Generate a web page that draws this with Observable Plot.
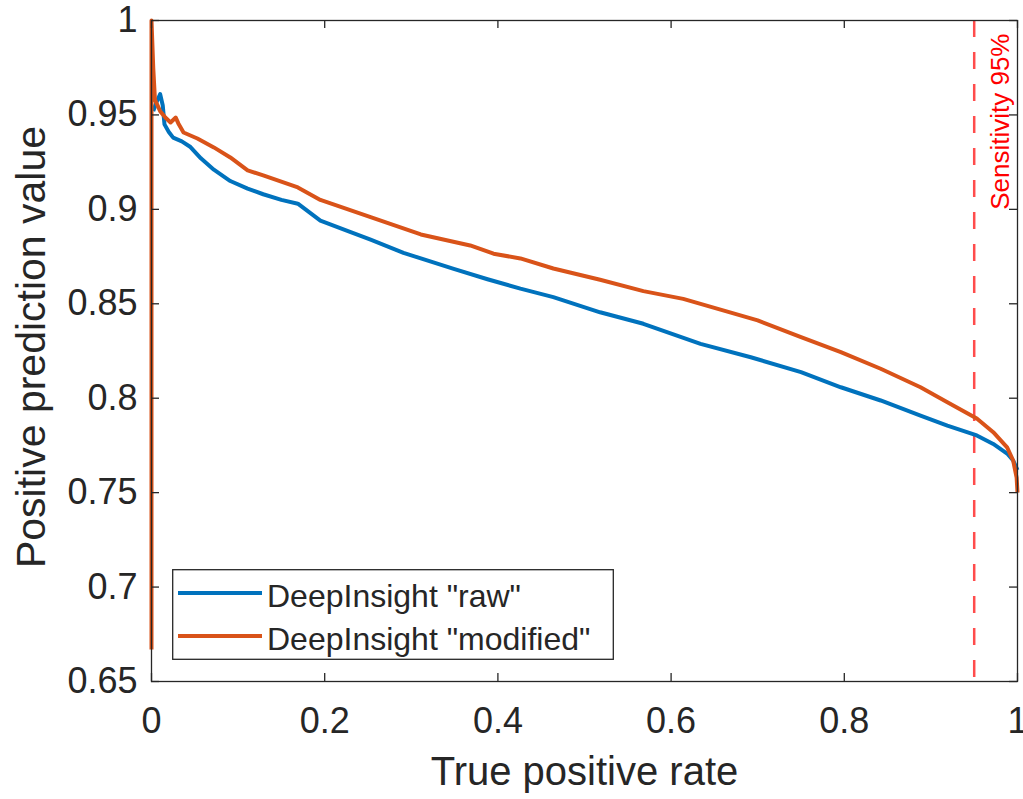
<!DOCTYPE html>
<html>
<head>
<meta charset="utf-8">
<script src="https://cdn.jsdelivr.net/npm/d3@7"></script>
<script src="https://cdn.jsdelivr.net/npm/@observablehq/plot@0.6"></script>
<style>
  body { margin: 0; background: #fff; }
  #wrap { position: relative; width: 1023px; height: 799px; font-family: 'Liberation Sans', Arial, sans-serif; }
  #legend { position: absolute; left: 172px; top: 569px; }
</style>
</head>
<body>
<div id="wrap"><div id="chart"></div><div id="legend"></div></div>
<script>
// ---- data ----
const seriesNames = ['DeepInsight "raw"', 'DeepInsight "modified"'];
const seriesColors = ["#0072BD", "#D95319"];

const rawTPR = [0.002, 0.006, 0.010, 0.013, 0.015, 0.020, 0.025, 0.035, 0.045, 0.057, 0.072, 0.091, 0.111, 0.129, 0.150, 0.169, 0.195, 0.230, 0.253, 0.291, 0.311, 0.349, 0.388, 0.426, 0.464, 0.518, 0.568, 0.634, 0.692, 0.750, 0.796, 0.842, 0.888, 0.919, 0.953, 0.972, 0.988, 0.995, 1.0];
const rawPPV = [0.952, 0.957, 0.961, 0.955, 0.945, 0.941, 0.938, 0.936, 0.933, 0.927, 0.921, 0.915, 0.911, 0.908, 0.905, 0.903, 0.894, 0.888, 0.884, 0.877, 0.874, 0.8685, 0.863, 0.858, 0.8535, 0.8455, 0.8394, 0.8288, 0.8217, 0.8138, 0.8058, 0.7988, 0.7908, 0.7855, 0.7803, 0.7758, 0.7707, 0.767, 0.762];

const modTPR = [0, 0, 0.002, 0.004, 0.010, 0.016, 0.022, 0.028, 0.031, 0.037, 0.053, 0.072, 0.091, 0.111, 0.129, 0.169, 0.195, 0.253, 0.311, 0.368, 0.395, 0.426, 0.464, 0.518, 0.568, 0.614, 0.654, 0.700, 0.750, 0.796, 0.842, 0.888, 0.919, 0.953, 0.972, 0.988, 0.995, 0.999, 1.0];
const modPPV = [0.667, 1.0, 0.975, 0.958, 0.952, 0.9486, 0.946, 0.9486, 0.9455, 0.9407, 0.9375, 0.9328, 0.9275, 0.9206, 0.918, 0.9116, 0.905, 0.8959, 0.8867, 0.8809, 0.8765, 0.874, 0.8687, 0.8627, 0.8567, 0.8526, 0.8473, 0.8412, 0.8323, 0.8244, 0.8156, 0.8058, 0.7979, 0.7893, 0.782, 0.774, 0.767, 0.758, 0.75];

const xTicks = [0, 0.2, 0.4, 0.6, 0.8, 1];
const xTickLabels = ["0", "0.2", "0.4", "0.6", "0.8", "1"];
const yTicks = [0.65, 0.7, 0.75, 0.8, 0.85, 0.9, 0.95, 1];
const yTickLabels = ["0.65", "0.7", "0.75", "0.8", "0.85", "0.9", "0.95", "1"];

const sensitivityX = [0.95];
const sensitivityLabel = "Sensitivity 95%";
const xLabel = "True positive rate";
const yLabel = "Positive prediction value";

// ---- layout ----
const W = 1023, H = 799;
const mL = 151, mR = 6, mT = 20, mB = 118;
const plotW = W - mL - mR, plotH = H - mT - mB;
const tickLen = 8;
const axisColor = "#262626";

const rows = [
  ...rawTPR.map((x, i) => ({x, y: rawPPV[i], s: seriesNames[0]})),
  ...modTPR.map((x, i) => ({x, y: modPPV[i], s: seriesNames[1]}))
];

const chart = Plot.plot({
  width: W, height: H,
  marginLeft: mL, marginRight: mR, marginTop: mT, marginBottom: mB,
  style: {fontFamily: "'Liberation Sans', Arial, sans-serif", background: "#fff", overflow: "visible"},
  x: {domain: [0, 1], label: null},
  y: {domain: [0.65, 1], label: null},
  color: {domain: seriesNames, range: seriesColors},
  marks: [
    // vertical reference line
    Plot.ruleX(sensitivityX, {x: d => d, stroke: "#ff0000", strokeOpacity: 0.7, strokeWidth: 2.5, strokeDasharray: "17,15"}),
    Plot.text([sensitivityLabel], {x: () => sensitivityX[0], text: d => d, frameAnchor: "top", dy: 13, dx: 26,
      rotate: -90, textAnchor: "end", lineAnchor: "middle", fill: "#ff0000", fontSize: 26}),
    // curves
    Plot.line(rows, {x: "x", y: "y", z: "s", stroke: "s", strokeWidth: 4, strokeLinejoin: "round", strokeLinecap: "butt"}),
    // frame and inward ticks
    Plot.frame({stroke: axisColor, strokeWidth: 1.3}),
    Plot.tickX(xTicks, {x: d => d, insetTop: plotH - tickLen, stroke: axisColor, strokeWidth: 1.3}),
    Plot.tickX(xTicks, {x: d => d, insetBottom: plotH - tickLen, stroke: axisColor, strokeWidth: 1.3}),
    Plot.tickY(yTicks, {y: d => d, insetRight: plotW - tickLen, stroke: axisColor, strokeWidth: 1.3}),
    Plot.tickY(yTicks, {y: d => d, insetLeft: plotW - tickLen, stroke: axisColor, strokeWidth: 1.3}),
    // tick labels
    Plot.axisX(xTicks, {tickSize: 0, tickPadding: 26, fontSize: 36, color: axisColor, label: null,
      tickFormat: d => xTickLabels[xTicks.indexOf(d)]}),
    Plot.axisY(yTicks, {tickSize: 0, tickPadding: 14, fontSize: 36, color: axisColor, label: null,
      tickFormat: d => yTickLabels[yTicks.indexOf(d)]}),
    // axis titles
    Plot.text([xLabel], {text: d => d, frameAnchor: "bottom", dy: 91, textAnchor: "middle", lineAnchor: "middle", fontSize: 40, fill: axisColor}),
    Plot.text([yLabel], {text: d => d, frameAnchor: "left", dx: -120, dy: -4, rotate: -90, textAnchor: "middle", lineAnchor: "middle", fontSize: 41, fill: axisColor})
  ]
});
document.getElementById("chart").appendChild(chart);

// ---- legend (inside axes, lower-left) ----
const lw = 442, lh = 91;
const leg = d3.select("#legend").append("svg").attr("width", lw).attr("height", lh)
  .style("font-family", "'Liberation Sans', Arial, sans-serif");
leg.append("rect").attr("x", 0.7).attr("y", 0.7).attr("width", lw - 1.4).attr("height", lh - 1.4)
  .attr("fill", "#fff").attr("stroke", axisColor).attr("stroke-width", 1.3);
const rowY = [24, 67];
seriesNames.forEach((name, i) => {
  leg.append("line").attr("x1", 6).attr("x2", 90).attr("y1", rowY[i]).attr("y2", rowY[i])
    .attr("stroke", seriesColors[i]).attr("stroke-width", 4);
  leg.append("text").attr("x", 95).attr("y", rowY[i] + 14).attr("font-size", 32).attr("fill", axisColor).text(name);
});
</script>
</body>
</html>
